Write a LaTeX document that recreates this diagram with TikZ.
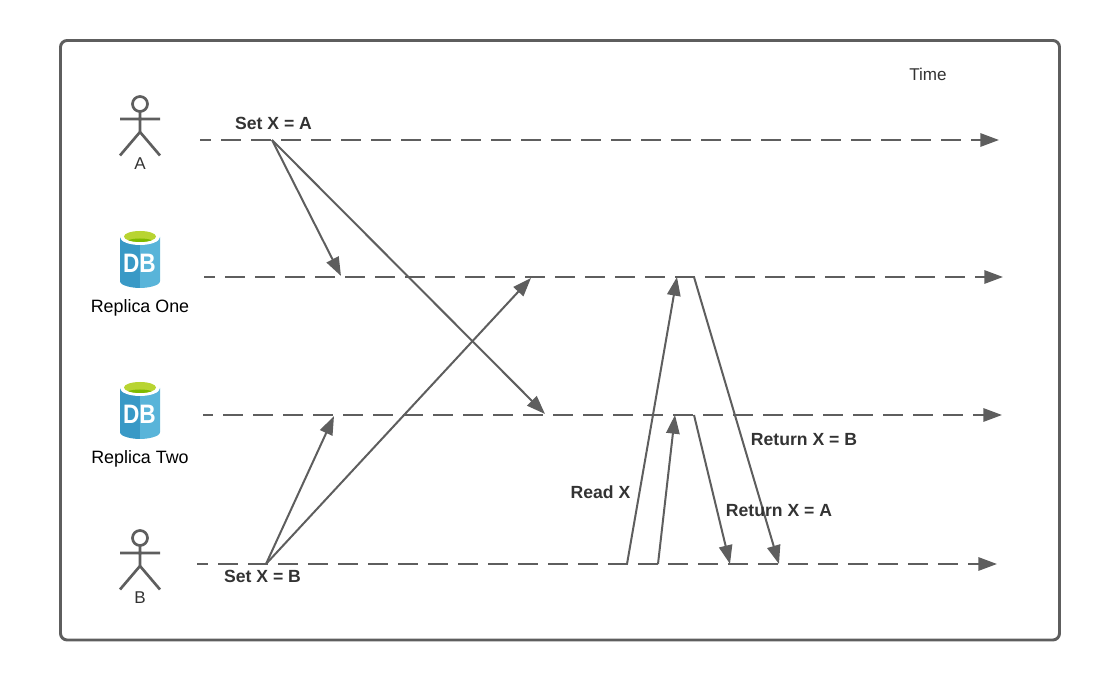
\documentclass[tikz,border=0pt]{standalone}
\usepackage{fontspec}
\usepackage{graphicx}
\setmainfont{Liberation Sans}
\usetikzlibrary{arrows.meta}
\definecolor{ln}{HTML}{5E5E5E}
\definecolor{txt}{HTML}{333333}
\definecolor{db1}{HTML}{3999C6}
\definecolor{db2}{HTML}{59B4D9}
\definecolor{dbg}{HTML}{B8D432}
\definecolor{dbh}{HTML}{7FBA00}
\tikzset{
  x=0.75pt,y=-0.75pt,
  every node/.style={inner sep=0pt,outer sep=0pt,text=txt},
  frame/.style={draw=ln,line width=2.2pt,rounded corners=5pt},
  timeline/.style={draw=ln,line width=1.5pt,dash pattern=on 15pt off 7.5pt,-{Triangle[length=14pt,width=10pt,fill=ln]}},
  msg/.style={draw=ln,line width=1.5pt,-{Triangle[length=14pt,width=10pt,fill=ln]}},
  lbl/.style={font=\bfseries\fontsize{13.2}{15}\selectfont},
  plain/.style={font=\fontsize{13.4}{15}\selectfont,text=black},
  actorlbl/.style={font=\fontsize{12.8}{15}\selectfont,text=txt},
  actor/.pic={
    \draw[ln,line width=2pt] (0,-28) circle (7.5);
    \draw[ln,line width=2pt] (0,-20.5) -- (0,0) (-20,-13) -- (20,-13) (-20,23.5) -- (0,0) -- (20,23.5);
  },
  dbicon/.pic={
    \fill[db1] (-20,-23) -- (-20,21) .. controls (-20,26) and (-7,28) .. (0,28) -- (0,-23) -- cycle;
    \fill[db2] (20,-23) -- (20,21) .. controls (20,26) and (7,28) .. (0,28) -- (0,-23) -- cycle;
    \fill[white] (0,-23) ellipse (20 and 8);
    \fill[dbg] (0,-23.5) ellipse (16 and 5.5);
    \begin{scope}
      \clip (0,-23.5) ellipse (16 and 5.5);
      \fill[dbh] (0,-17) ellipse (15 and 4.5);
    \end{scope}
    \node[text=white,font=\bfseries\fontsize{20}{20}\selectfont] at (-0.5,3.5) {\scalebox{0.85}[1]{DB}};
  },
}
\begin{document}
\begin{tikzpicture}
\useasboundingbox (0,0) rectangle (1100,680);
\draw[frame] (60.5,40.5) rectangle (1059.5,640);
% actors and databases
\pic at (140,132) {actor};
\node[actorlbl] (la) at (140,164) {A};
\pic at (140,260) {dbicon};
\node[plain] (r1) at (140,308) {Replica One};
\pic at (140,411) {dbicon};
\node[plain] (r2) at (140,459) {Replica Two};
\pic at (140,566) {actor};
\node[actorlbl] (lb) at (140,598) {B};
\node[font=\fontsize{12.8}{15}\selectfont,text=txt] (time) at (928,74) {Time};
% timeline points
\coordinate (a0) at (200,140); \coordinate (a1) at (272,140); \coordinate (a2) at (999,140);
\coordinate (o0) at (204,277); \coordinate (o1) at (341,276); \coordinate (o2) at (531,278);
\coordinate (o3) at (677,277); \coordinate (o4) at (694,277); \coordinate (o5) at (1003,277);
\coordinate (t0) at (203,415); \coordinate (t1) at (334,416); \coordinate (t2) at (545,414);
\coordinate (t3) at (675,415); \coordinate (t4) at (694,415); \coordinate (t5) at (1002,415);
\coordinate (b0) at (197,564); \coordinate (b1) at (266,564); \coordinate (b2) at (627,564);
\coordinate (b3) at (658,564); \coordinate (b4) at (730,564); \coordinate (b5) at (779,564); \coordinate (b6) at (997,564);
% timelines
\draw[timeline,dash phase=6.75pt] (a0) -- (a2);
\draw[timeline,dash phase=6.75pt] (o0) -- (o5);
\draw[timeline,dash phase=7.5pt] (t0) -- (t5);
\draw[timeline,dash phase=6.75pt] (b0) -- (b6);
% messages
\draw[msg] (a1) -- (o1);
\draw[msg] (a1) -- (t2);
\draw[msg] (b1) -- (t1);
\draw[msg] (b1) -- (o2);
\draw[msg] (b2) -- (o3);
\draw[msg] (b3) -- (t3);
\draw[msg] (o4) -- (b5);
\draw[msg] (t4) -- (b4);
% labels
\node[lbl] (seta) at (273.5,123) {Set X = A};
\node[lbl] (setb) at (262.5,576) {Set X = B};
\node[lbl] (read) at (600.5,492) {Read X};
\node[lbl] (retb) at (804,440) {Return X = B};
\node[lbl] (reta) at (779,510.5) {Return X = A};
\end{tikzpicture}
\end{document}
